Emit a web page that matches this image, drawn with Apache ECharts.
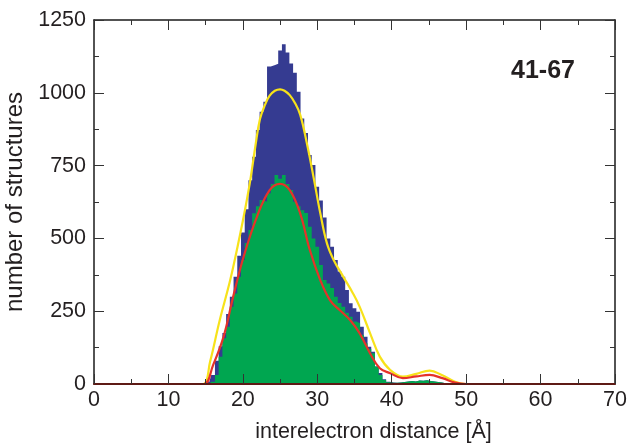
<!DOCTYPE html>
<html><head><meta charset="utf-8">
<script src="https://cdn.jsdelivr.net/npm/echarts@6/dist/echarts.min.js"></script>
<style>html,body{margin:0;padding:0;background:#fff}#c{width:631px;height:443px}</style>
</head><body><div id="c"></div>
<script>
// histogram bin centres (Å), bin width 0.5 Å
const binCenters = [15.0,15.5,16.0,16.5,17.0,17.5,18.0,18.5,19.0,19.5,20.0,20.5,21.0,21.5,22.0,22.5,23.0,23.5,24.0,24.5,25.0,25.5,26.0,26.5,27.0,27.5,28.0,28.5,29.0,29.5,30.0,30.5,31.0,31.5,32.0,32.5,33.0,33.5,34.0,34.5,35.0,35.5,36.0,36.5,37.0,37.5,38.0,38.5,39.0,39.5,40.0,40.5,41.0,41.5,42.0,42.5,43.0,43.5,44.0,44.5,45.0,45.5,46.0,46.5,47.0,47.5,48.0];
const binWidth = 0.5;
// all structures (blue)
const blueCounts = [4,8,31,80,130,175,240,300,368,440,520,600,700,780,872,935,969,1090,1095,1100,1145,1167,1138,1101,1069,1004,912,862,786,752,677,630,572,500,471,426,386,368,323,277,260,248,197,162,128,111,60,38,16,8,5,4,5,7,9,10,9,12,11,13,10,9,7,5,3,2,1];
// subset (green)
const greenCounts = [0,0,8,31,94,157,197,265,311,368,426,484,529,586,610,632,626,655,687,718,705,718,687,666,626,610,597,587,540,500,471,409,357,345,330,300,278,265,245,231,215,209,168,140,120,106,60,31,14,6,4,4,5,7,9,10,9,12,11,13,10,9,7,5,3,2,1];
// fitted curves [distance, count]
const yellowCurve = [[0,0],[13,0],[14.7,0],[15.6,77],[16.9,220],[18.3,357],[19.6,510],[20.3,600],[21.0,700],[21.7,820],[22.3,910],[23.0,960],[23.6,990],[24.3,1007],[25.0,1012],[25.6,1007],[26.3,992],[27.0,965],[27.7,925],[28.6,827],[29.5,710],[30.4,587],[31.3,483],[32.2,426],[33.5,368],[34.8,311],[35.7,265],[37.1,174],[38.4,94],[39.8,48],[41.5,25],[43.3,35],[45.1,46],[46.8,30],[48.5,8],[50,0],[52,0],[70,0]];
const redCurve = [[0,0],[13,0],[14.8,0],[16.0,65],[17.4,162],[18.7,300],[20.1,437],[21.9,575],[23.6,666],[25.0,687],[26.3,666],[27.7,586],[29.0,460],[30.4,357],[31.7,288],[33.0,254],[34.4,220],[35.7,174],[37.1,105],[38.4,54],[39.8,37],[41.5,20],[43.3,26],[45.1,31],[46.8,20],[48.5,5],[50,0],[52,0],[70,0]];
const xTicks = [0,10,20,30,40,50,60,70];
const yTicks = [0,250,500,750,1000,1250];
const panelLabel = '41-67';

const FONT = 'Liberation Sans';
const TXT = '#231F20';
const FS = 21.5;
// step histogram: zero-padded at both ends so the area closes on the axis
function histData(counts){
  const d = [[binCenters[0]-binWidth,0]];
  binCenters.forEach((c,i)=>d.push([c,counts[i]]));
  d.push([binCenters[binCenters.length-1]+binWidth,0]);
  return d;
}
function histSeries(counts,color,z){
  return {type:'line', data:histData(counts), step:'middle', z:z, showSymbol:false, symbol:'none',
    lineStyle:{width:0,color:color}, areaStyle:{color:color,opacity:1}};
}
const axisCommon = {
  axisTick:{show:true,inside:true,length:10,lineStyle:{color:'#333',width:1}},
  minorTick:{show:true,splitNumber:2,length:5,lineStyle:{color:'#333',width:1}},
  splitLine:{show:false}, minorSplitLine:{show:false}
};
const chart = echarts.init(document.getElementById('c'), null, {renderer:'canvas'});
chart.setOption({
  animation:false,
  backgroundColor:'#fff',
  grid:{left:94,right:16,top:20,bottom:59,containLabel:false,outerBoundsMode:'none'},
  xAxis:[
    Object.assign({type:'value',min:xTicks[0],max:xTicks[xTicks.length-1],interval:10,position:'bottom',z:10,
      axisLine:{show:true,onZero:false,lineStyle:{color:'#5E1A15',width:2}},
      name:'interelectron distance [Å]',nameLocation:'middle',nameGap:37,
      nameTextStyle:{fontFamily:FONT,fontSize:FS,color:TXT,padding:[0,0,0,38]},
      axisLabel:{fontFamily:FONT,fontSize:FS,color:TXT,margin:5}},axisCommon),
    Object.assign({type:'value',min:xTicks[0],max:xTicks[xTicks.length-1],interval:10,position:'top',
      axisLine:{show:true,onZero:false,lineStyle:{color:'#1a1a1a',width:1.5}},
      axisLabel:{show:false}},axisCommon)
  ],
  yAxis:[
    Object.assign({type:'value',min:yTicks[0],max:yTicks[yTicks.length-1],interval:250,position:'left',
      axisLine:{show:true,onZero:false,lineStyle:{color:'#1a1a1a',width:1.5}},
      name:'number of structures',nameLocation:'middle',nameGap:60,
      nameTextStyle:{fontFamily:FONT,fontSize:24,color:TXT},
      axisLabel:{fontFamily:FONT,fontSize:FS,color:TXT,margin:8,formatter:function(v){return String(v);}}},axisCommon),
    Object.assign({type:'value',min:yTicks[0],max:yTicks[yTicks.length-1],interval:250,position:'right',
      axisLine:{show:true,onZero:false,lineStyle:{color:'#1a1a1a',width:1.5}},
      axisLabel:{show:false}},axisCommon)
  ],
  series:[
    histSeries(blueCounts,'#353B91',2),
    histSeries(greenCounts,'#00A650',3),
    {type:'line',data:yellowCurve,smooth:0.4,showSymbol:false,symbol:'none',z:4,
      lineStyle:{color:'#F7E21A',width:2.2}},
    {type:'line',data:redCurve,smooth:0.4,showSymbol:false,symbol:'none',z:5,
      lineStyle:{color:'#E5322A',width:2.2}}
  ],
  graphic:[{type:'text',left:511,top:59,style:{text:panelLabel,font:'bold 25px "Liberation Sans"',fill:TXT}}]
});
</script></body></html>
